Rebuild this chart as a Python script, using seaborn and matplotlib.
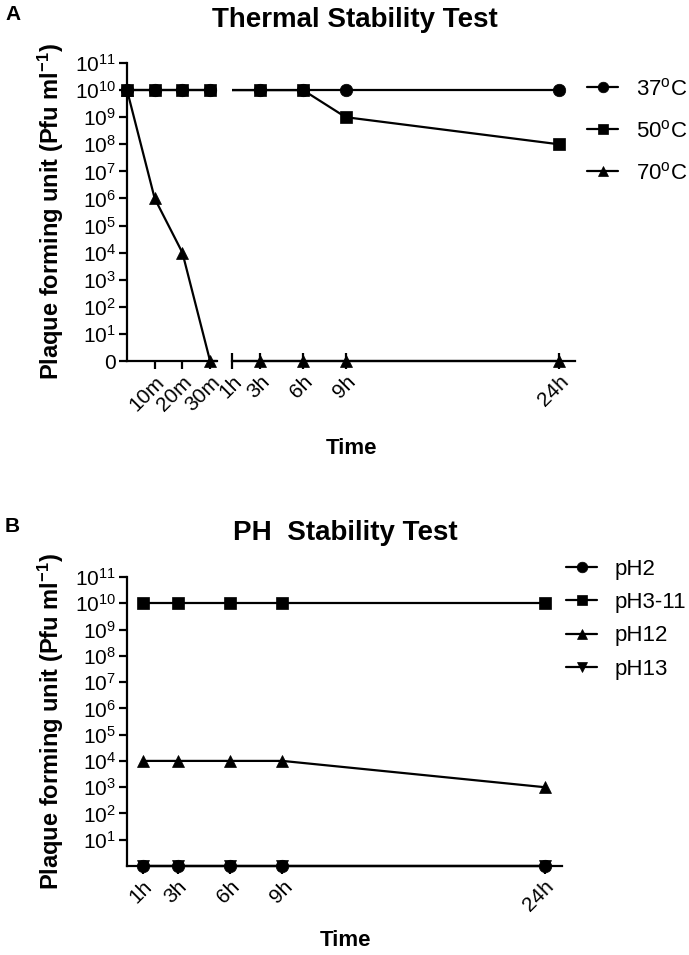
import numpy as np
import pandas as pd
import seaborn as sns
import matplotlib
matplotlib.use("Agg")
import matplotlib.pyplot as plt
from matplotlib.transforms import Bbox, TransformedBbox
from matplotlib.ticker import NullLocator

# -------------------------------
# DATA
# -------------------------------
thermal_time_min = [0, 10, 20, 30, 180, 360, 540, 1440]
thermal_37 = [1e10, 1e10, 1e10, 1e10, 1e10, 1e10, 1e10, 1e10]
thermal_50 = [1e10, 1e10, 1e10, 1e10, 1e10, 1e10, 1e9, 1e8]
thermal_70 = [1e10, 1e6, 1e4, 0, 0, 0, 0, 0]
thermal_labels = [r"37$^\mathrm{o}$C", r"50$^\mathrm{o}$C", r"70$^\mathrm{o}$C"]

left_ticks = [10, 20, 30]
left_ticklabels = ["10m", "20m", "30m"]
right_ticks = [60, 180, 360, 540, 1440]
right_ticklabels = ["1h", "3h", "6h", "9h", "24h"]

ph_time_h = [1, 3, 6, 9, 24]
ph_2 = [0, 0, 0, 0, 0]
ph_3_11 = [1e10, 1e10, 1e10, 1e10, 1e10]
ph_12 = [1e4, 1e4, 1e4, 1e4, 1e3]
ph_13 = [0, 0, 0, 0, 0]
ph_labels = ["pH2", "pH3-11", "pH12", "pH13"]
ph_ticklabels = ["1h", "3h", "6h", "9h", "24h"]

y_ticks = [0] + [10 ** k for k in range(1, 12)]
y_ticklabels = ["0"] + [r"$10^{%d}$" % k for k in range(1, 12)]

# -------------------------------
# STYLE
# -------------------------------
sns.set_style("ticks")
plt.rcParams["font.family"] = ["Liberation Sans", "DejaVu Sans"]
plt.rcParams["mathtext.fontset"] = "custom"
plt.rcParams["mathtext.rm"] = "Liberation Sans"
plt.rcParams["mathtext.bf"] = "Liberation Sans:bold"
plt.rcParams["mathtext.default"] = "regular"
for key in ["text.color", "axes.labelcolor", "xtick.color", "ytick.color", "axes.edgecolor"]:
    plt.rcParams[key] = "black"

thermal_df = pd.DataFrame({
    "time": thermal_time_min * 3,
    "pfu": thermal_37 + thermal_50 + thermal_70,
    "temp": sum([[lab] * len(thermal_time_min) for lab in thermal_labels], []),
})
ph_df = pd.DataFrame({
    "time": ph_time_h * 4,
    "pfu": ph_2 + ph_3_11 + ph_12 + ph_13,
    "ph": sum([[lab] * len(ph_time_h) for lab in ph_labels], []),
})

W, H = 689, 955
fig = plt.figure(figsize=(W / 100, H / 100), dpi=100)

def px_axes(x0, y0, x1, y1):
    return fig.add_axes([x0 / W, 1 - y1 / H, (x1 - x0) / W, (y1 - y0) / H])

line_kw = dict(linewidth=1.6, markeredgecolor="black", markeredgewidth=0.5,
               markersize=9, dashes=False, estimator=None)

def style_y(ax, ticks, labels):
    ax.set_yscale("symlog", linthresh=10, linscale=0.9)
    ax.set_ylim(0, 1e11)
    ax.set_yticks(ticks)
    ax.set_yticklabels(labels)
    ax.yaxis.set_minor_locator(NullLocator())

def style_spines(ax, left=True):
    sns.despine(ax=ax, left=not left)
    for s in ["left", "bottom"]:
        ax.spines[s].set_linewidth(1.6)
    ax.tick_params(axis="both", direction="out", length=6, width=1.6,
                   labelsize=15, pad=2)
    ax.tick_params(axis="x", labelsize=15)
    for lab in ax.get_xticklabels():
        lab.set_rotation(45)
        lab.set_ha("right")
        lab.set_rotation_mode("anchor")

# -------------------------------
# A. THERMAL STABILITY (broken x axis)
# -------------------------------
axL = px_axes(127, 63, 217, 361)
axR = px_axes(232, 63, 575, 361)

for ax, show_legend in [(axL, False), (axR, True)]:
    sns.lineplot(data=thermal_df, x="time", y="pfu", hue="temp", style="temp",
                 palette=["black"] * 3, markers=["o", "s", "^"],
                 legend=show_legend, ax=ax, **line_kw)
    style_y(ax, y_ticks, y_ticklabels)
    clip = TransformedBbox(Bbox([[0 if ax is axR else -0.2, -0.1], [1.0 if ax is axL else 1.2, 1.1]]),
                           ax.transAxes)
    for ln in ax.lines:
        ln.set_clip_box(clip)

axL.set_xlim(0, 32.5)
axL.set_xticks(left_ticks)
axL.set_xticklabels(left_ticklabels)
axR.set_xlim(60, 1508)
axR.set_xticks(right_ticks)
axR.set_xticklabels(right_ticklabels)
axR.set_yticks([])
style_spines(axL)
style_spines(axR, left=False)
axR.tick_params(axis="x", direction="inout", length=12)
axL.set_xlabel("")
axR.set_xlabel("")
axL.set_ylabel("Plaque forming unit (Pfu ml$^{\\mathbf{-1}}$)", fontsize=17,
               fontweight="bold", labelpad=6)
axR.set_ylabel("")

sns.move_legend(axR, "upper left", bbox_to_anchor=(567 / W, 1 - 58 / H),
                bbox_transform=fig.transFigure, frameon=False, title=None,
                fontsize=16, handlelength=1.4, labelspacing=0.9, handletextpad=0.8,
                markerscale=0.85)

fig.text(355 / W, 1 - 20 / H, "Thermal Stability Test", ha="center", va="center",
         fontsize=20, fontweight="bold")
fig.text(351 / W, 1 - 448 / H, "Time", ha="center", va="center",
         fontsize=16, fontweight="bold")
fig.text(5 / W, 1 - 14 / H, "A", ha="left", va="center", fontsize=15, fontweight="bold")

# -------------------------------
# B. PH STABILITY
# -------------------------------
axB = px_axes(127, 577, 562, 866)
sns.lineplot(data=ph_df, x="time", y="pfu", hue="ph", style="ph",
             palette=["black"] * 4, markers=["o", "s", "^", "v"],
             legend=True, ax=axB, **line_kw)
for ln in axB.lines:
    ln.set_clip_on(False)
style_y(axB, y_ticks[1:], y_ticklabels[1:])
axB.set_xlim(0.1, 25)
axB.set_xticks(ph_time_h)
axB.set_xticklabels(ph_ticklabels)
style_spines(axB)
axB.set_xlabel("")
axB.set_ylabel("Plaque forming unit (Pfu ml$^{\\mathbf{-1}}$)", fontsize=17,
               fontweight="bold", labelpad=6)
sns.move_legend(axB, "upper left", bbox_to_anchor=(546 / W, 1 - 539 / H),
                bbox_transform=fig.transFigure, frameon=False, title=None,
                fontsize=16, handlelength=1.4, labelspacing=0.55, handletextpad=0.8,
                markerscale=0.85)

fig.text(345 / W, 1 - 533 / H, "PH  Stability Test", ha="center", va="center",
         fontsize=20, fontweight="bold")
fig.text(345 / W, 1 - 940 / H, "Time", ha="center", va="center",
         fontsize=16, fontweight="bold")
fig.text(5 / W, 1 - 527 / H, "B", ha="left", va="center", fontsize=15, fontweight="bold")

fig.savefig("out.png", dpi=100)
